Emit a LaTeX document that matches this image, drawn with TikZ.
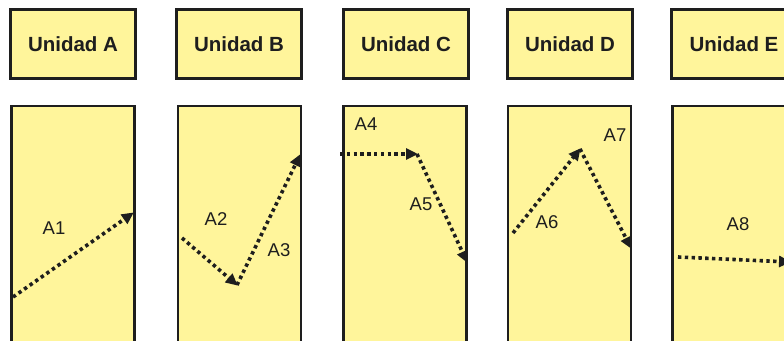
\documentclass[tikz,border=0pt]{standalone}
\usepackage{fontspec}
\setmainfont{Liberation Sans}
\usetikzlibrary{arrows.meta}
\definecolor{boxyellow}{RGB}{255,245,155}
\definecolor{ink}{RGB}{30,30,30}
\tikzset{
  header/.style={draw=ink, fill=boxyellow, line width=2.8pt, minimum width=125pt, minimum height=69pt, inner sep=0pt, font=\fontsize{20.5}{24}\selectfont\bfseries, text=ink},
  column/.style={draw=ink, fill=boxyellow, line width=2.2pt, minimum width=123pt, minimum height=254pt, inner sep=0pt},
  lbl/.style={font=\fontsize{18.5}{22}\selectfont, text=ink, inner sep=0pt},
  move/.style={draw=ink, line width=3.6pt, dash pattern=on 3.4pt off 3.4pt, -{Triangle[length=12pt,width=11pt]}, shorten >=-1pt},
}
\begin{document}
\begin{tikzpicture}[x=1pt,y=-1pt]
\useasboundingbox (0,0) rectangle (784,340);
\clip (0,0) rectangle (784,340);
\node[header] (hA) at (73,44) {Unidad A};
\node[header] (hB) at (239,44) {Unidad B};
\node[header] (hC) at (406,44) {Unidad C};
\node[header] (hD) at (570,44) {Unidad D};
\node[header] (hE) at (734,44) {Unidad E};
\node[column] (cA) at (73,233) {};
\node[column] (cB) at (239.5,233) {};
\node[column] (cC) at (405,233) {};
\node[column] (cD) at (569.5,233) {};
\node[column] (cE) at (734,233) {};
% path points
\coordinate (p0) at (13,297);
\coordinate (p1) at (133,213);
\coordinate (q0) at (182,238);
\coordinate (q1) at (237,285);
\coordinate (q2) at (300,155);
\coordinate (r0) at (340,154);
\coordinate (r1) at (417,154);
\coordinate (r2) at (467,262);
\coordinate (s0) at (513,233);
\coordinate (s1) at (580,149);
\coordinate (s2) at (631,248);
\coordinate (t0) at (678,257);
\coordinate (t1) at (790,262);
\draw[move] (p0) -- (p1);
\draw[move] (q0) -- (q1);
\draw[move] (q1) -- (q2);
\draw[move] (r0) -- (r1);
\draw[move] (r1) -- (r2);
\draw[move] (s0) -- (s1);
\draw[move] (s1) -- (s2);
\draw[move] (t0) -- (t1);
\node[lbl] (lA1) at (54,228) {A1};
\node[lbl] (lA2) at (216,219) {A2};
\node[lbl] (lA3) at (279,250) {A3};
\node[lbl] (lA4) at (366,124) {A4};
\node[lbl] (lA5) at (421,204) {A5};
\node[lbl] (lA6) at (547,222) {A6};
\node[lbl] (lA7) at (615,135) {A7};
\node[lbl] (lA8) at (738,224) {A8};
\end{tikzpicture}
\end{document}
